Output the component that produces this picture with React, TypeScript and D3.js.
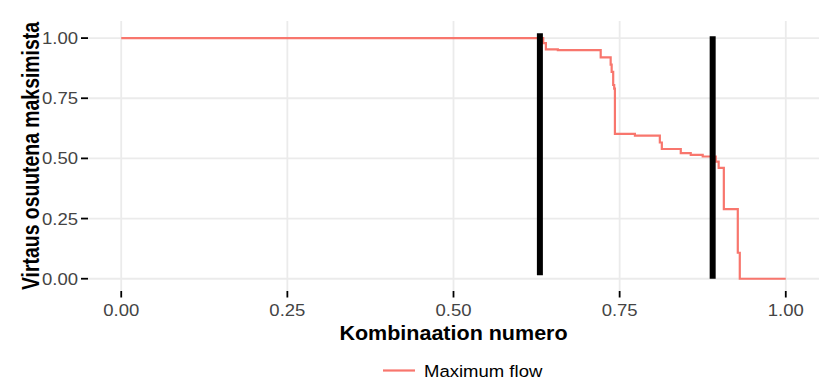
import * as d3 from 'd3';

// Step curve: x where the value changes, and the new value
const flowX = [0, 0.635, 0.639, 0.657, 0.7215, 0.7365, 0.738, 0.7403, 0.7418, 0.7429, 0.773, 0.8105, 0.8135, 0.842, 0.857, 0.875, 0.8947, 0.899, 0.9068, 0.9278, 0.9308, 1.0];
const flowY = [1.0, 0.979, 0.953, 0.95, 0.92, 0.89, 0.86, 0.805, 0.79, 0.602, 0.595, 0.566, 0.539, 0.522, 0.515, 0.508, 0.487, 0.461, 0.289, 0.108, 0, 0];

// Black vertical markers
const markerX = [0.63, 0.89];
const markerLow = [0.014, 0];
const markerHigh = [1.02, 1.008];

const xTicks = [0, 0.25, 0.5, 0.75, 1];
const yTicks = [0, 0.25, 0.5, 0.75, 1];
const tickLabels = ['0.00', '0.25', '0.50', '0.75', '1.00'];

const seriesName = 'Maximum flow';
const xTitle = 'Kombinaation numero';
const yTitle = 'Virtaus osuutena maksimista';

const width = 823;
const height = 381;
const panel = { left: 88, right: 819, top: 21, bottom: 291 };
const SX = 1.09; // text looks a bit wide
const red = '#F8766D';
const font = '"Liberation Sans", Arial, sans-serif';

export default function App() {
  const x = d3.scaleLinear().domain([-0.05, 1.05]).range([panel.left, panel.right]);
  const y = d3.scaleLinear().domain([-0.051, 1.071]).range([panel.bottom, panel.top]);

  const pts: [number, number][] = flowX.map((v, i) => [v, flowY[i]]);
  const line = d3.line<[number, number]>()
    .x(d => x(d[0]))
    .y(d => y(d[1]))
    .curve(d3.curveStepAfter);

  return (
    <svg width={width} height={height} style={{ position: 'absolute', left: 0, top: 0, background: '#fff' }}
      fontFamily={font}>
      {/* grid */}
      {yTicks.map(t => (
        <line key={'gy' + t} x1={panel.left} x2={panel.right} y1={y(t)} y2={y(t)} stroke="#ebebeb" strokeWidth={1.8} />
      ))}
      {xTicks.map(t => (
        <line key={'gx' + t} x1={x(t)} x2={x(t)} y1={panel.top} y2={panel.bottom} stroke="#ebebeb" strokeWidth={1.8} />
      ))}

      {/* series */}
      <path d={line(pts) || ''} fill="none" stroke={red} strokeWidth={2.2} />

      {/* markers */}
      {markerX.map((m, i) => (
        <line key={'m' + i} x1={x(m)} x2={x(m)} y1={y(markerLow[i])} y2={y(markerHigh[i])} stroke="#000" strokeWidth={6} />
      ))}

      {/* y axis */}
      {yTicks.map((t, i) => (
        <g key={'yt' + t}>
          <line x1={panel.left - 7} x2={panel.left} y1={y(t)} y2={y(t)} stroke="#000" strokeWidth={1.8} />
          <g transform={`translate(${panel.left - 10},${y(t) + 6}) scale(${SX},1)`}>
            <text textAnchor="end" fontSize={17} fill="#444">{tickLabels[i]}</text>
          </g>
        </g>
      ))}

      {/* x axis */}
      {xTicks.map((t, i) => (
        <g key={'xt' + t}>
          <line x1={x(t)} x2={x(t)} y1={panel.bottom} y2={panel.bottom + 6.5} stroke="#000" strokeWidth={1.8} />
          <g transform={`translate(${x(t)},${316}) scale(${SX},1)`}>
            <text textAnchor="middle" fontSize={17} fill="#444">{tickLabels[i]}</text>
          </g>
        </g>
      ))}

      {/* titles */}
      <g transform={`translate(${(panel.left + panel.right) / 2},340) scale(1.05,1)`}>
        <text textAnchor="middle" fontSize={20.5} fontWeight="bold" fill="#000">{xTitle}</text>
      </g>
      <g transform={`translate(39,${(panel.top + panel.bottom) / 2}) scale(1.28,1) rotate(-90)`}>
        <text textAnchor="middle" fontSize={19.4} fontWeight="bold" fill="#000">{yTitle}</text>
      </g>

      {/* legend */}
      <line x1={383} x2={415} y1={370.5} y2={370.5} stroke={red} strokeWidth={2.2} />
      <g transform={`translate(424,377) scale(${SX},1)`}>
        <text fontSize={17} fill="#000">{seriesName}</text>
      </g>
    </svg>
  );
}
